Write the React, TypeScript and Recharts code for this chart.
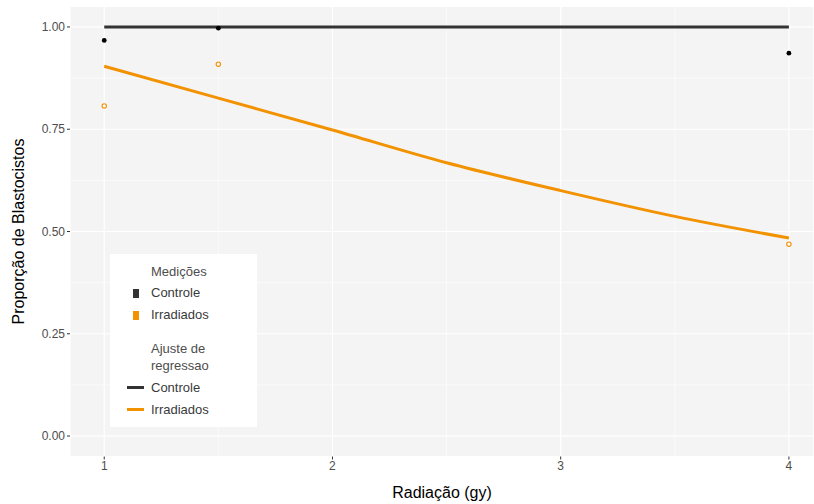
import { ComposedChart, Line, Scatter, XAxis, YAxis, CartesianGrid } from "recharts";

// medições (pontos)
const doses = [1, 1.5, 4];
const controleMedidas = [0.967, 0.997, 0.936];
const irradiadosMedidas = [0.807, 0.909, 0.469];

// ajuste de regressão
const dosesAjuste = [1, 1.5, 2, 2.5, 3, 3.5, 4];
const controleAjuste = [1.0, 1.0, 1.0, 1.0, 1.0, 1.0, 1.0];
const irradiadosAjuste = [0.904, 0.826, 0.748, 0.668, 0.6, 0.537, 0.484];

const xTicks = [1, 2, 3, 4];
const yTicks = [0, 0.25, 0.5, 0.75, 1];
const xMinor = [1.5, 2.5, 3.5];
const yMinor = [0.125, 0.375, 0.625, 0.875];

const ORANGE = "#f39200";
const DARK = "#333333";
const FONT = "'Liberation Sans', Arial, sans-serif";

const ptsControle = doses.map((x, i) => ({ x, y: controleMedidas[i] }));
const ptsIrradiados = doses.map((x, i) => ({ x, y: irradiadosMedidas[i] }));
const lnControle = dosesAjuste.map((x, i) => ({ x, y: controleAjuste[i] }));
const lnIrradiados = dosesAjuste.map((x, i) => ({ x, y: irradiadosAjuste[i] }));

const DotFilled = (p: any) => <circle cx={p.cx} cy={p.cy} r={2.4} fill="#000" />;
const DotOpen = (p: any) => (
  <circle cx={p.cx} cy={p.cy} r={2.2} fill="none" stroke={ORANGE} strokeWidth={1.1} />
);

function LegendBox() {
  const txt = { position: "absolute" as const, fontFamily: FONT, fontSize: 13, color: "#3a3a3a", whiteSpace: "nowrap" as const };
  return (
    <div style={{ position: "absolute", left: 110, top: 254, width: 147, height: 173, background: "#fff" }}>
      <div style={{ ...txt, left: 41, top: 10, color: "#4d4d4d" }}>Medições</div>
      <div style={{ position: "absolute", left: 23, top: 35, width: 6, height: 9, background: DARK }} />
      <div style={{ ...txt, left: 41, top: 31 }}>Controle</div>
      <div style={{ position: "absolute", left: 23, top: 57, width: 6, height: 9, background: ORANGE }} />
      <div style={{ ...txt, left: 41, top: 53 }}>Irradiados</div>
      <div style={{ ...txt, left: 41, top: 86, color: "#4d4d4d", lineHeight: "17px", whiteSpace: "normal" }}>
        Ajuste de<br />regressao
      </div>
      <div style={{ position: "absolute", left: 17, top: 132, width: 17, height: 3, background: DARK }} />
      <div style={{ ...txt, left: 41, top: 126 }}>Controle</div>
      <div style={{ position: "absolute", left: 17, top: 154, width: 17, height: 3, background: ORANGE }} />
      <div style={{ ...txt, left: 41, top: 148 }}>Irradiados</div>
    </div>
  );
}

export default function App() {
  const tick = { fill: "#4d4d4d", fontSize: 12, fontFamily: FONT };
  return (
    <div style={{ position: "absolute", left: 0, top: 0, width: 814, height: 504, background: "#fff" }}>
      <ComposedChart width={814} height={504} margin={{ top: 6.5, right: 0, bottom: 0, left: 0 }}>
        <CartesianGrid stroke="#ffffff" strokeWidth={1.2} fill="#f4f4f4" />
        <CartesianGrid stroke="#ffffff" strokeWidth={0.6} horizontalValues={yMinor} verticalValues={xMinor} />
        <XAxis
          type="number"
          dataKey="x"
          domain={[0.85, 4.11]}
          ticks={xTicks}
          allowDataOverflow
          height={47.5}
          axisLine={false}
          tickSize={3}
          tickLine={{ stroke: DARK }}
          tick={tick}
          label={{ value: "Radiação (gy)", position: "insideBottom", offset: 6, fill: "#000", fontSize: 16, fontFamily: FONT }}
        />
        <YAxis
          type="number"
          dataKey="y"
          domain={[-0.05, 1.05]}
          ticks={yTicks}
          allowDataOverflow
          width={70}
          axisLine={false}
          tickSize={3}
          tickLine={{ stroke: DARK }}
          tick={tick}
          tickFormatter={(v: number) => v.toFixed(2)}
          label={{
            value: "Proporção de Blastocistos",
            angle: -90,
            position: "insideLeft",
            offset: 18,
            style: { textAnchor: "middle" },
            fill: "#000",
            fontSize: 16,
            fontFamily: FONT,
          }}
        />
        <Line data={lnControle} dataKey="y" type="linear" stroke={DARK} strokeWidth={3} dot={false} isAnimationActive={false} />
        <Line data={lnIrradiados} dataKey="y" type="monotone" stroke={ORANGE} strokeWidth={3} dot={false} isAnimationActive={false} />
        <Scatter data={ptsControle} dataKey="y" shape={DotFilled} isAnimationActive={false} />
        <Scatter data={ptsIrradiados} dataKey="y" shape={DotOpen} isAnimationActive={false} />
      </ComposedChart>
      <LegendBox />
    </div>
  );
}
